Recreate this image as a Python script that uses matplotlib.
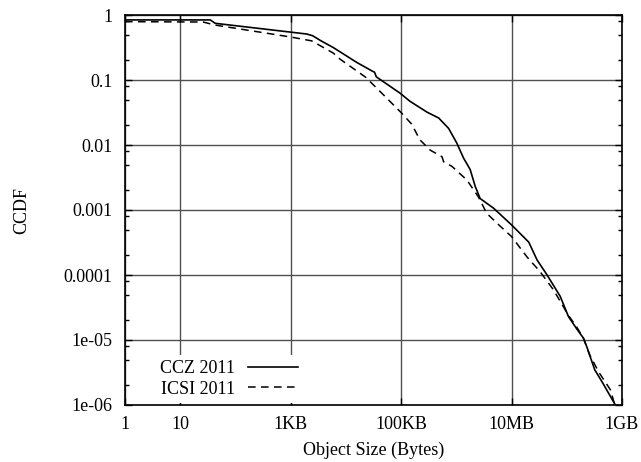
import matplotlib
matplotlib.use("Agg")
import matplotlib.pyplot as plt
from matplotlib.ticker import FixedLocator, NullFormatter

plt.rcParams['font.family'] = ['Liberation Serif', 'DejaVu Serif']
plt.rcParams['font.size'] = 13

# object size (bytes) vs. CCDF, one curve per trace
ccz_size = [1, 35, 43, 1950, 2500, 3550, 5900, 7800, 15800, 31000, 33000, 35500,
            95000, 145000, 295000, 480000, 725000, 1.02e6, 1.35e6, 1.78e6, 2.2e6,
            2.7e6, 4.7e6, 1.0e7, 2.05e7, 2.9e7, 4.4e7, 7.6e7, 1.07e8, 1.5e8, 2.0e8,
            2.3e8, 3.2e8, 4.6e8, 7.1e8, 7.6e8]
ccz_ccdf = [0.84, 0.84, 0.745, 0.51, 0.48, 0.40, 0.316, 0.272, 0.186, 0.135, 0.132, 0.112,
            0.063, 0.047, 0.032, 0.026, 0.018, 0.0107, 0.0063, 0.0042, 0.0023,
            0.0015, 0.00107, 0.00059, 0.00032, 0.00017, 1.0e-4, 4.7e-5, 2.3e-5, 1.5e-5, 1.07e-5,
            7.9e-6, 3.5e-6, 2.1e-6, 1.1e-6, 1.0e-6]

icsi_size = [1, 26, 43, 980, 2400, 5900, 7800, 22900, 48000, 102000, 155000, 219000,
             339000, 550000, 590000, 830000, 1.55e6, 2.5e6, 3.55e6, 5.4e6, 1.0e7,
             1.9e7, 3.3e7, 5.75e7, 1.07e8, 1.5e8, 2.0e8, 2.6e8, 3.8e8, 6.2e8, 7.4e8]
icsi_ccdf = [0.79, 0.78, 0.70, 0.46, 0.40, 0.26, 0.21, 0.11, 0.059, 0.031, 0.021, 0.012,
             0.0083, 0.0066, 0.0055, 0.0047, 0.0029, 0.0016, 0.00089, 0.00063, 0.00039,
             0.00019, 0.000112, 5.9e-5, 2.4e-5, 1.6e-5, 1.07e-5, 5.9e-6, 3.2e-6, 1.7e-6, 1.0e-6]

xtick_vals = [1, 10, 1e3, 1e5, 1e7, 1e9]
xtick_labels = ['1', '10', '1KB', '100KB', '10MB', '1GB']
ytick_vals = [1e-6, 1e-5, 1e-4, 1e-3, 1e-2, 1e-1, 1]
ytick_labels = ['1e-06', '1e-05', '0.0001', '0.001', '0.01', '0.1', '1']

fig = plt.figure(figsize=(6.41, 4.62), dpi=100)
ax = fig.add_axes([125/641, 57/462, 497/641, 390/462])

ax.plot(ccz_size, ccz_ccdf, color='black', lw=1.2, label='CCZ 2011')
ax.plot(icsi_size, icsi_ccdf, color='black', lw=1.1, dashes=(5, 3.5), label='ICSI 2011')

ax.set_xscale('log')
ax.set_yscale('log')
ax.set_xlim(1, 1e9)
ax.set_ylim(1e-6, 1)

ax.xaxis.set_major_locator(FixedLocator(xtick_vals))
ax.set_xticklabels(xtick_labels)
ax.xaxis.set_minor_locator(FixedLocator([]))
ax.yaxis.set_major_locator(FixedLocator(ytick_vals))
ax.set_yticklabels(ytick_labels)
minor_y = [m * 10.0**e for e in range(-6, 0) for m in (2, 5, 8)]
ax.yaxis.set_minor_locator(FixedLocator(minor_y))
ax.yaxis.set_minor_formatter(NullFormatter())

ax.tick_params(which='both', direction='in', top=True, right=True, width=1)
ax.tick_params(which='major', length=5)
ax.tick_params(which='minor', length=3)
ax.tick_params(axis='x', pad=8)
ax.tick_params(axis='y', pad=9)

ax.grid(True, which='major', color='#505050', lw=1.0)
for sp in ax.spines.values():
    sp.set_linewidth(1.2)

ax.set_xlabel('Object Size (Bytes)', labelpad=6)
ax.set_ylabel('CCDF', labelpad=24)

leg = ax.legend(loc='lower left', bbox_to_anchor=(0.056, 0.0), markerfirst=False,
                handlelength=2.8, handletextpad=0.7, labelspacing=0.2,
                borderpad=0.3, borderaxespad=0.1, frameon=True, fancybox=False)
leg.get_frame().set_facecolor('white')
leg.get_frame().set_edgecolor('none')
leg.get_frame().set_alpha(1)

fig.savefig('out.png', dpi=100)
